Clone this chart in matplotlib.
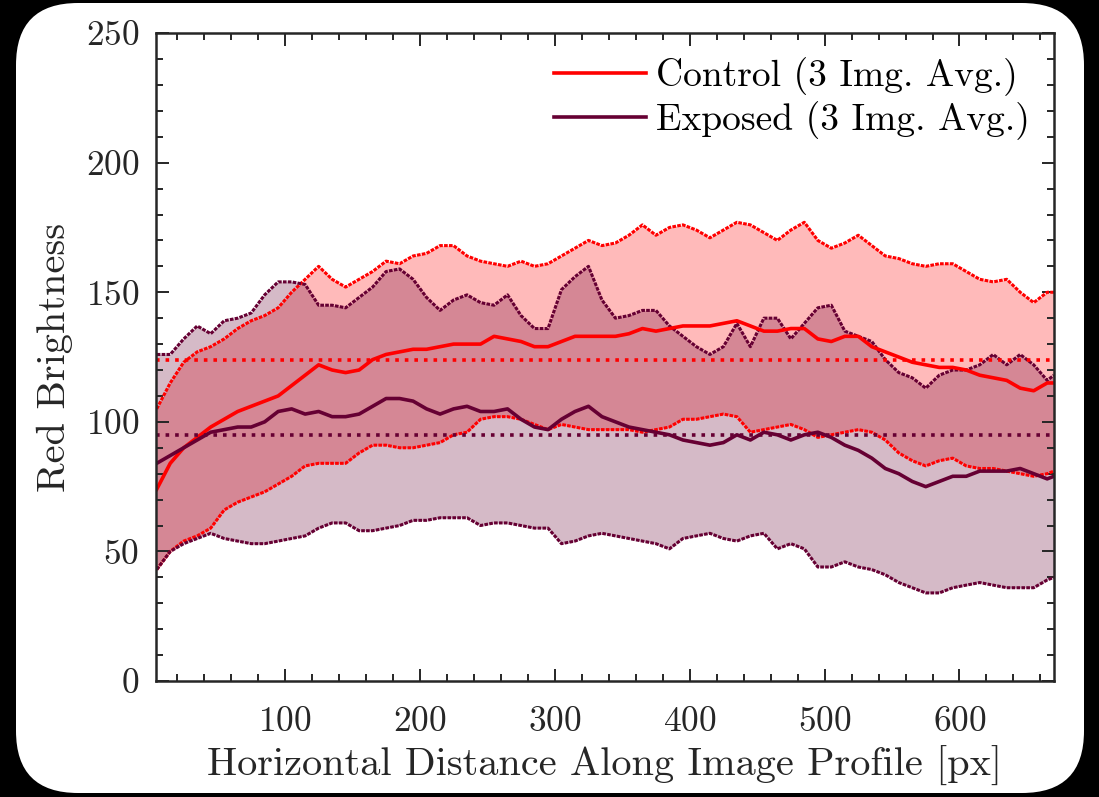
import matplotlib
matplotlib.use("Agg")
import matplotlib.pyplot as plt
from matplotlib.patches import FancyBboxPatch
from matplotlib.transforms import IdentityTransform
from matplotlib.ticker import MultipleLocator

plt.rcParams['font.family'] = 'cmr10'
plt.rcParams['mathtext.fontset'] = 'cm'
plt.rcParams['axes.formatter.use_mathtext'] = True

# profile positions [px]
x_pos = [5, 15, 25, 35, 45, 55, 65, 75, 85, 95,
         105, 115, 125, 135, 145, 155, 165, 175, 185, 195,
         205, 215, 225, 235, 245, 255, 265, 275, 285, 295,
         305, 315, 325, 335, 345, 355, 365, 375, 385, 395,
         405, 415, 425, 435, 445, 455, 465, 475, 485, 495,
         505, 515, 525, 535, 545, 555, 565, 575, 585, 595,
         605, 615, 625, 635, 645, 655, 665, 670]

# control: upper bound, mean, lower bound
control_upper = [105, 115, 123, 127, 129, 132, 136, 139, 141, 144,
                 150, 155, 160, 155, 152, 155, 158, 162, 161, 164,
                 165, 168, 168, 164, 162, 161, 160, 162, 160, 161,
                 164, 167, 170, 168, 169, 172, 176, 172, 175, 176,
                 174, 171, 174, 177, 176, 173, 170, 174, 177, 170,
                 167, 169, 172, 168, 164, 163, 161, 160, 161, 161,
                 158, 155, 154, 155, 150, 146, 150, 150]
control_mean = [74, 84, 90, 94, 98, 101, 104, 106, 108, 110,
                114, 118, 122, 120, 119, 120, 124, 126, 127, 128,
                128, 129, 130, 130, 130, 133, 132, 131, 129, 129,
                131, 133, 133, 133, 133, 134, 136, 135, 136, 137,
                137, 137, 138, 139, 137, 135, 135, 136, 136, 132,
                131, 133, 133, 129, 127, 125, 123, 122, 121, 121,
                120, 118, 117, 116, 113, 112, 115, 115]
control_lower = [43, 50, 54, 56, 59, 66, 69, 71, 73, 76,
                 79, 83, 84, 84, 84, 88, 91, 91, 90, 90,
                 91, 92, 95, 96, 101, 102, 102, 101, 99, 97,
                 99, 98, 97, 97, 97, 97, 96, 97, 98, 101,
                 101, 102, 103, 102, 96, 97, 98, 99, 97, 94,
                 95, 96, 97, 96, 93, 88, 85, 83, 85, 86,
                 83, 82, 82, 81, 80, 79, 80, 81]

# exposed: upper bound, mean, lower bound
exposed_upper = [126, 126, 132, 137, 134, 139, 140, 142, 149, 154,
                 154, 153, 145, 145, 144, 148, 152, 158, 159, 155,
                 148, 143, 147, 149, 146, 145, 149, 141, 136, 136,
                 151, 156, 160, 147, 140, 141, 143, 143, 137, 133,
                 129, 126, 129, 138, 129, 140, 140, 132, 138, 144,
                 145, 135, 133, 131, 124, 119, 117, 113, 118, 120,
                 120, 122, 126, 122, 126, 122, 116, 118]
exposed_mean = [84, 87, 90, 93, 96, 97, 98, 98, 100, 104,
                105, 103, 104, 102, 102, 103, 106, 109, 109, 108,
                105, 103, 105, 106, 104, 104, 105, 101, 98, 97,
                101, 104, 106, 102, 100, 98, 97, 96, 95, 93,
                92, 91, 92, 95, 93, 96, 95, 93, 95, 96,
                94, 91, 89, 86, 82, 80, 77, 75, 77, 79,
                79, 81, 81, 81, 82, 80, 78, 79]
exposed_lower = [43, 50, 53, 55, 57, 55, 54, 53, 53, 54,
                 55, 56, 59, 61, 61, 58, 58, 59, 60, 62,
                 62, 63, 63, 63, 60, 61, 61, 60, 59, 59,
                 53, 54, 56, 57, 56, 55, 54, 53, 51, 55,
                 56, 57, 55, 54, 56, 57, 51, 53, 51, 44,
                 44, 46, 44, 43, 41, 38, 36, 34, 34, 36,
                 37, 38, 37, 36, 36, 36, 39, 40]

control_overall = 124
exposed_overall = 95

red = '#ff0000'
dark = '#660033'

fig = plt.figure(figsize=(10.99, 7.97), dpi=100, facecolor='black')
card = FancyBboxPatch((16, 4), 1068, 790, boxstyle="round,pad=0,rounding_size=62",
                      transform=IdentityTransform(), facecolor='white',
                      edgecolor='none', zorder=-10)
fig.patches.append(card)

ax = fig.add_axes([0.142, 0.1455, 0.817, 0.813])
ax.set_facecolor('white')

# shaded bands
ax.fill_between(x_pos, control_lower, control_upper, color=red, alpha=0.27, lw=0)
ax.fill_between(x_pos, exposed_lower, exposed_upper, color=dark, alpha=0.27, lw=0)

# bounds (dotted-ish) and means
ax.plot(x_pos, control_upper, color=red, lw=2.2, ls=(0, (1.2, 0.4)))
ax.plot(x_pos, control_lower, color=red, lw=2.2, ls=(0, (1.2, 0.4)))
ax.plot(x_pos, exposed_upper, color=dark, lw=2.2, ls=(0, (1.2, 0.4)))
ax.plot(x_pos, exposed_lower, color=dark, lw=2.2, ls=(0, (1.2, 0.4)))
h1, = ax.plot(x_pos, control_mean, color=red, lw=2.6, label='Control (3 Img. Avg.)')
h2, = ax.plot(x_pos, exposed_mean, color=dark, lw=2.6, label='Exposed (3 Img. Avg.)')

ax.axhline(control_overall, color=red, ls=':', lw=2.6)
ax.axhline(exposed_overall, color=dark, ls=':', lw=2.6)

ax.set_xlim(4.5, 670)
ax.set_ylim(0, 250)
ax.xaxis.set_major_locator(MultipleLocator(100))
ax.xaxis.set_minor_locator(MultipleLocator(20))
ax.yaxis.set_major_locator(MultipleLocator(50))
ax.yaxis.set_minor_locator(MultipleLocator(10))
ax.tick_params(which='both', direction='in', top=True, right=True,
               colors='#262626', width=1.4)
ax.tick_params(which='major', length=9, labelsize=25.5)
ax.tick_params(axis='x', which='major', pad=18)
ax.tick_params(axis='y', which='major', pad=12)
ax.tick_params(which='minor', length=5)
for sp in ax.spines.values():
    sp.set_linewidth(1.8)
    sp.set_color('#262626')

ax.set_xlabel('Horizontal Distance Along Image Profile [px]', fontsize=29,
              color='#262626', labelpad=6)
ax.set_ylabel('Red Brightness', fontsize=29, color='#262626', labelpad=9)

ax.legend(handles=[h1, h2], loc='upper right', frameon=False, fontsize=27,
          handlelength=2.45, handletextpad=0.25, labelspacing=0.12,
          borderaxespad=0.25)

fig.savefig('out.png', dpi=100, facecolor='black')
